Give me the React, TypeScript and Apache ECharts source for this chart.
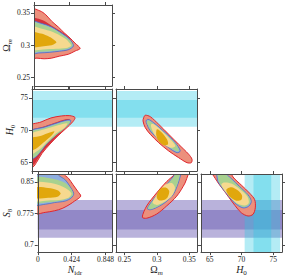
import React, { useEffect, useRef } from "react";
import * as echarts from "echarts";

// ---- axis variables ----
const NIDR_RANGE = [0, 0.93];
const OMEGA_RANGE = [0.237, 0.362];
const H0_RANGE = [63.6, 76.4];
const S8_RANGE = [0.683, 0.869];

const NIDR_TICKS = [0, 0.424, 0.848];
const OMEGA_TICKS = [0.25, 0.3, 0.35];
const H0_TICKS = [65, 70, 75];
const S8_TICKS = [0.7, 0.775, 0.85];

// ---- external priors (bands) ----
const H0_1SIG = [71.9, 74.7];
const H0_2SIG = [70.5, 76.1];
const S8_1SIG = [0.737, 0.783];
const S8_2SIG = [0.717, 0.807];

// ---- contours: Omega_m vs N_idr ----
const A_SALMON = [[-0.05,0.356],[0.07,0.353],[0.14,0.347],[0.21,0.337],[0.29,0.328],[0.36,0.319],[0.43,0.311],[0.49,0.303],[0.55,0.295],[0.49,0.291],[0.41,0.286],[0.30,0.283],[0.21,0.280],[0.12,0.279],[0.035,0.280],[-0.05,0.280]];
const A_RED = [[-0.05,0.341],[0.07,0.340],[0.14,0.336],[0.21,0.330],[0.30,0.323],[0.38,0.316],[0.44,0.308],[0.465,0.300],[0.41,0.293],[0.30,0.291],[0.19,0.2895],[0.07,0.289],[-0.05,0.289]];
const A_BLUE = [[-0.05,0.3365],[0.093,0.3335],[0.21,0.328],[0.30,0.321],[0.38,0.314],[0.44,0.307],[0.47,0.2987],[0.41,0.293],[0.30,0.2906],[0.19,0.289],[0.07,0.288],[-0.05,0.288]];
const A_GREEN = [[-0.05,0.335],[0.093,0.332],[0.21,0.3265],[0.30,0.3196],[0.38,0.3126],[0.436,0.3064],[0.459,0.2992],[0.40,0.2946],[0.30,0.2923],[0.19,0.2907],[0.07,0.2899],[-0.05,0.2899]];
const A_LIGHT = [[-0.05,0.3288],[0.105,0.325],[0.21,0.3211],[0.30,0.3157],[0.378,0.3095],[0.424,0.3034],[0.442,0.2992],[0.384,0.2957],[0.267,0.2944],[0.105,0.2935],[-0.05,0.2935]];
const A_GOLD = [[-0.05,0.3203],[0.081,0.318],[0.151,0.315],[0.209,0.3111],[0.256,0.3064],[0.267,0.3041],[0.2325,0.301],[0.186,0.2994],[0.093,0.298],[-0.05,0.2978]];

// ---- contours: H0 vs N_idr ----
const B_SALMON = [[-0.05,70.47],[0.105,71.25],[0.22,71.88],[0.34,72.19],[0.44,72.24],[0.50,71.95],[0.477,71.33],[0.395,70.24],[0.30,69.07],[0.21,67.82],[0.116,66.34],[0.052,64.93],[0.012,64.23],[-0.05,64.1]];
const B_RED = [[-0.05,69.6],[0.15,70.6],[0.30,71.3],[0.42,71.7],[0.45,71.4],[0.33,69.54],[0.21,67.9],[0.116,66.5],[0.058,65.3],[0.023,64.6],[-0.05,64.3]];
const B_BLUE = [[-0.05,69.58],[0.148,70.47],[0.30,71.14],[0.40,71.52],[0.45,71.52],[0.438,71.05],[0.36,70.11],[0.264,69.07],[0.166,67.77],[0.09,66.46],[0.031,65.68],[-0.05,65.4]];
const B_GREEN = [[-0.05,69.4],[0.148,70.3],[0.30,70.98],[0.40,71.35],[0.44,71.35],[0.43,70.95],[0.355,70.0],[0.26,68.95],[0.16,67.7],[0.085,66.45],[0.03,65.75],[-0.05,65.5]];
const B_LIGHT = [[-0.05,69.07],[0.148,70.11],[0.302,70.74],[0.41,71.05],[0.38,70.36],[0.282,69.49],[0.186,68.29],[0.0895,66.99],[-0.05,66.0]];
const B_GOLD = [[-0.05,68.5],[0.108,69.1],[0.206,69.6],[0.26,69.8],[0.225,69.1],[0.13,68.0],[0.05,67.1],[-0.05,66.7]];

// ---- contours: H0 vs Omega_m ----
const C_SALMON = [[0.2797,71.92],[0.2822,72.30],[0.2899,72.08],[0.3029,70.89],[0.3183,69.33],[0.3337,67.77],[0.3492,66.21],[0.3543,65.43],[0.3532,64.90],[0.3466,64.90],[0.3337,65.68],[0.3183,66.73],[0.3029,68.02],[0.2899,69.33],[0.2822,70.36],[0.2787,71.41]];
const C_BLUE = [[0.2864,71.67],[0.2952,71.14],[0.3131,69.58],[0.3285,68.02],[0.3362,66.73],[0.3311,66.46],[0.3183,67.24],[0.3029,68.55],[0.2899,69.85],[0.2848,70.89],[0.2833,71.4]];
const C_GREEN = [[0.2875,71.5],[0.2955,70.95],[0.313,69.45],[0.328,67.95],[0.3345,66.85],[0.3315,66.65],[0.3185,67.4],[0.303,68.7],[0.2905,69.95],[0.2858,70.85],[0.2845,71.3]];
const C_LIGHT = [[0.291,70.83],[0.2952,70.89],[0.308,69.85],[0.3208,68.55],[0.3285,67.51],[0.3208,67.24],[0.308,68.02],[0.2976,69.07],[0.2925,70.11]];
const C_GOLD = [[0.3003,70.11],[0.308,69.58],[0.3157,68.55],[0.3172,67.77],[0.3106,67.62],[0.3029,68.29],[0.2992,69.18]];

// ---- contours: S8 vs N_idr ----
const D_SALMON = [[-0.05,0.9],[0.29,0.9],[0.3255,0.869],[0.384,0.859],[0.442,0.8434],[0.50,0.8279],[0.538,0.8162],[0.4615,0.8046],[0.403,0.7969],[0.306,0.7869],[0.209,0.7814],[0.093,0.7776],[-0.05,0.776]];
const D_BLUE = [[-0.05,0.9],[0.22,0.9],[0.2476,0.869],[0.345,0.855],[0.403,0.8395],[0.45,0.8225],[0.422,0.8125],[0.345,0.8046],[0.209,0.8009],[0.093,0.7969],[-0.05,0.797]];
const D_GREEN = [[-0.05,0.859],[0.209,0.8567],[0.345,0.8474],[0.422,0.8318],[0.442,0.8202],[0.403,0.8125],[0.287,0.8055],[0.131,0.8015],[-0.05,0.8015]];
const D_LIGHT = [[-0.05,0.8474],[0.209,0.8458],[0.345,0.8358],[0.422,0.8225],[0.384,0.8125],[0.267,0.8069],[0.131,0.806],[-0.05,0.806]];
const D_GOLD = [[-0.05,0.8358],[0.131,0.8358],[0.2476,0.8302],[0.287,0.8225],[0.2476,0.8148],[0.131,0.8125],[-0.05,0.8125]];

// ---- contours: S8 vs Omega_m ----
const E_SALMON = [[0.2776,0.766],[0.2844,0.793],[0.2998,0.8241],[0.3152,0.8511],[0.328,0.869],[0.336,0.89],[0.355,0.89],[0.3486,0.869],[0.3435,0.8474],[0.3307,0.8162],[0.3152,0.793],[0.2998,0.7737],[0.2844,0.7637]];
const E_BLUE = [[0.2853,0.7869],[0.2946,0.8086],[0.31,0.8358],[0.3254,0.8627],[0.334,0.885],[0.342,0.885],[0.3373,0.869],[0.3331,0.8474],[0.3254,0.8202],[0.3126,0.8009],[0.2998,0.7893],[0.2895,0.7837]];
const E_GREEN = [[0.2862,0.7875],[0.2955,0.8085],[0.3108,0.8352],[0.326,0.862],[0.334,0.884],[0.3405,0.884],[0.336,0.869],[0.3322,0.847],[0.3245,0.8205],[0.3118,0.8015],[0.2995,0.7905],[0.29,0.7852]];
const E_LIGHT = [[0.2936,0.8009],[0.3023,0.8241],[0.3126,0.8434],[0.323,0.8474],[0.328,0.8358],[0.323,0.8162],[0.31,0.8009],[0.2998,0.7953]];
const E_GOLD = [[0.2998,0.8148],[0.3023,0.8279],[0.3075,0.8358],[0.3152,0.8358],[0.3192,0.8279],[0.3162,0.8125],[0.3091,0.8062],[0.3023,0.8069]];

// ---- contours: S8 vs H0 ----
const F_SALMON = [[64.9,0.888],[66.02,0.8544],[67.34,0.8272],[68.66,0.80],[69.97,0.7767],[71.03,0.769],[71.82,0.773],[72.18,0.7883],[72.08,0.8079],[71.29,0.8232],[69.97,0.8427],[68.66,0.862],[67.8,0.888]];
const F_BLUE = [[65.2,0.888],[66.02,0.8697],[66.29,0.8504],[67.6,0.8232],[68.92,0.80],[70.24,0.7883],[71.14,0.7923],[71.55,0.8039],[71.03,0.8195],[69.71,0.8388],[68.39,0.8581],[67.6,0.8697],[67.1,0.888]];
const F_GREEN = [[65.4,0.888],[66.15,0.8697],[66.45,0.849],[67.72,0.8225],[69.0,0.8015],[70.25,0.7905],[71.05,0.7945],[71.42,0.8045],[70.93,0.8195],[69.63,0.8385],[68.3,0.8578],[67.45,0.8697],[67.0,0.888]];
const F_LIGHT = [[66.81,0.8427],[67.87,0.8195],[69.18,0.80],[70.5,0.7939],[71.14,0.80],[70.92,0.8155],[69.71,0.8334],[68.39,0.8464],[67.23,0.8488]];
const F_GOLD = [[67.6,0.8311],[68.13,0.8155],[69.18,0.8055],[69.97,0.8079],[70.08,0.8179],[69.45,0.8295],[68.39,0.8372]];

const SERIF = "'Liberation Serif', 'DejaVu Serif', serif";
const FRAME = "#4a4a4a";
const COL = {
  salmon: "#ec907c",
  redEdge: "#e0262e",
  red: "#d4303a",
  blue: "#8eaee0",
  blueEdge: "#4c6fc6",
  green: "#a8d18f",
  light: "#f6d98f",
  gold: "#e1a70c",
  cyan: "rgba(40,200,225,0.35)",
  purple: "rgba(100,85,175,0.45)",
};

const RICH = {
  i: { fontFamily: SERIF, fontStyle: "italic", fontSize: 10, color: "#222", verticalAlign: "bottom", padding: [0, 0, 2, 0] },
  r: { fontFamily: SERIF, fontSize: 10, color: "#222", verticalAlign: "bottom", padding: [0, 0, 2, 0] },
  s: { fontFamily: SERIF, fontSize: 7, color: "#222", verticalAlign: "bottom" },
  si: { fontFamily: SERIF, fontStyle: "italic", fontSize: 7, color: "#222", verticalAlign: "bottom" },
};

const VARS = {
  N: { range: NIDR_RANGE, ticks: NIDR_TICKS, name: "{i|N}{s|idr}", gapY: 16 },
  O: { range: OMEGA_RANGE, ticks: OMEGA_TICKS, name: "{r|Ω}{si|m}", gapY: 16.5 },
  H: { range: H0_RANGE, ticks: H0_TICKS, name: "{i|H}{s|0}", gapY: 14 },
  S: { range: S8_RANGE, ticks: S8_TICKS, name: "{i|S}{s|8}", gapY: 18 },
};

const PANELS = [
  { x: "N", y: "O", grid: { left: 32, top: 5, width: 80, height: 81 }, xl: false, yl: true },
  { x: "N", y: "H", grid: { left: 32, top: 89, width: 80, height: 82 }, xl: false, yl: true },
  { x: "O", y: "H", grid: { left: 116, top: 89, width: 81, height: 82 }, xl: false, yl: false },
  { x: "N", y: "S", grid: { left: 32, top: 174, width: 80, height: 80 }, xl: true, yl: true },
  { x: "O", y: "S", grid: { left: 116, top: 174, width: 81, height: 80 }, xl: true, yl: false },
  { x: "H", y: "S", grid: { left: 201, top: 174, width: 81, height: 80 }, xl: true, yl: false },
];

function makeAxis(pi: number, v: any, position: string, showLabel: boolean, isY: boolean) {
  return {
    gridIndex: pi,
    type: "value",
    position,
    min: v.range[0],
    max: v.range[1],
    z: 10,
    axisLine: { show: true, onZero: false, lineStyle: { color: FRAME, width: 1 } },
    axisTick: { show: true, inside: false, length: 3, customValues: v.ticks, lineStyle: { color: FRAME, width: 1 } },
    axisLabel: {
      show: showLabel,
      customValues: v.ticks,
      formatter: (x: number) => String(x),
      fontFamily: SERIF,
      fontSize: 7.5,
      color: "#222",
      margin: isY ? 4 : 3,
    },
    splitLine: { show: false },
    name: showLabel ? v.name : "",
    nameLocation: "middle",
    nameGap: isY ? v.gapY : 9,
    nameTextStyle: { rich: RICH },
  };
}

function poly(pi: number, pts: number[][], fill: string, stroke?: string, lw?: number, smooth = 0.3) {
  return {
    type: "custom",
    xAxisIndex: 2 * pi,
    yAxisIndex: 2 * pi,
    clip: true,
    silent: true,
    data: pts,
    renderItem: (params: any, api: any) => {
      if (params.dataIndex !== 0) return null;
      return {
        type: "polygon",
        shape: { points: pts.map((p) => api.coord(p)), smooth },
        style: { fill, stroke: stroke || "none", lineWidth: lw || 0 },
      };
    },
  };
}

function hBand(pi: number, band: number[], color: string) {
  const xr = (VARS as any)[PANELS[pi].x].range;
  return poly(pi, [[xr[0], band[0]], [xr[1], band[0]], [xr[1], band[1]], [xr[0], band[1]]], color, undefined, 0, 0);
}
function vBand(pi: number, band: number[], color: string) {
  const yr = (VARS as any)[PANELS[pi].y].range;
  return poly(pi, [[band[0], yr[0]], [band[1], yr[0]], [band[1], yr[1]], [band[0], yr[1]]], color, undefined, 0, 0);
}

function contourSet(pi: number, salmon: number[][], red: number[][] | null, blue: number[][], green: number[][], light: number[][], gold: number[][]) {
  const out: any[] = [poly(pi, salmon, COL.salmon, COL.redEdge, 1)];
  if (red) out.push(poly(pi, red, COL.red));
  out.push(poly(pi, blue, COL.blue, COL.blueEdge, 0.8));
  out.push(poly(pi, green, COL.green));
  out.push(poly(pi, light, COL.light));
  out.push(poly(pi, gold, COL.gold));
  return out;
}

export default function App() {
  const ref = useRef<HTMLDivElement>(null);
  useEffect(() => {
    document.body.style.margin = "0";
    const chart = echarts.init(ref.current!, null, { renderer: "svg" });
    const xAxis: any[] = [];
    const yAxis: any[] = [];
    PANELS.forEach((p, i) => {
      const xv = (VARS as any)[p.x];
      const yv = (VARS as any)[p.y];
      xAxis.push(makeAxis(i, xv, "bottom", p.xl, false));
      xAxis.push(makeAxis(i, xv, "top", false, false));
      yAxis.push(makeAxis(i, yv, "left", p.yl, true));
      yAxis.push(makeAxis(i, yv, "right", false, true));
    });
    const series: any[] = [
      hBand(1, H0_2SIG, COL.cyan), hBand(1, H0_1SIG, COL.cyan),
      hBand(2, H0_2SIG, COL.cyan), hBand(2, H0_1SIG, COL.cyan),
      hBand(3, S8_2SIG, COL.purple), hBand(3, S8_1SIG, COL.purple),
      hBand(4, S8_2SIG, COL.purple), hBand(4, S8_1SIG, COL.purple),
      hBand(5, S8_2SIG, COL.purple), hBand(5, S8_1SIG, COL.purple),
      vBand(5, H0_2SIG, COL.cyan), vBand(5, H0_1SIG, COL.cyan),
      ...contourSet(0, A_SALMON, A_RED, A_BLUE, A_GREEN, A_LIGHT, A_GOLD),
      ...contourSet(1, B_SALMON, B_RED, B_BLUE, B_GREEN, B_LIGHT, B_GOLD),
      ...contourSet(2, C_SALMON, null, C_BLUE, C_GREEN, C_LIGHT, C_GOLD),
      ...contourSet(3, D_SALMON, null, D_BLUE, D_GREEN, D_LIGHT, D_GOLD),
      ...contourSet(4, E_SALMON, null, E_BLUE, E_GREEN, E_LIGHT, E_GOLD),
      ...contourSet(5, F_SALMON, null, F_BLUE, F_GREEN, F_LIGHT, F_GOLD),
    ];
    chart.setOption({
      animation: false,
      backgroundColor: "#ffffff",
      grid: PANELS.map((p) => ({ ...p.grid, containLabel: false })),
      xAxis,
      yAxis,
      series,
    });
    return () => chart.dispose();
  }, []);
  return <div ref={ref} style={{ width: 289, height: 277 }} />;
}
